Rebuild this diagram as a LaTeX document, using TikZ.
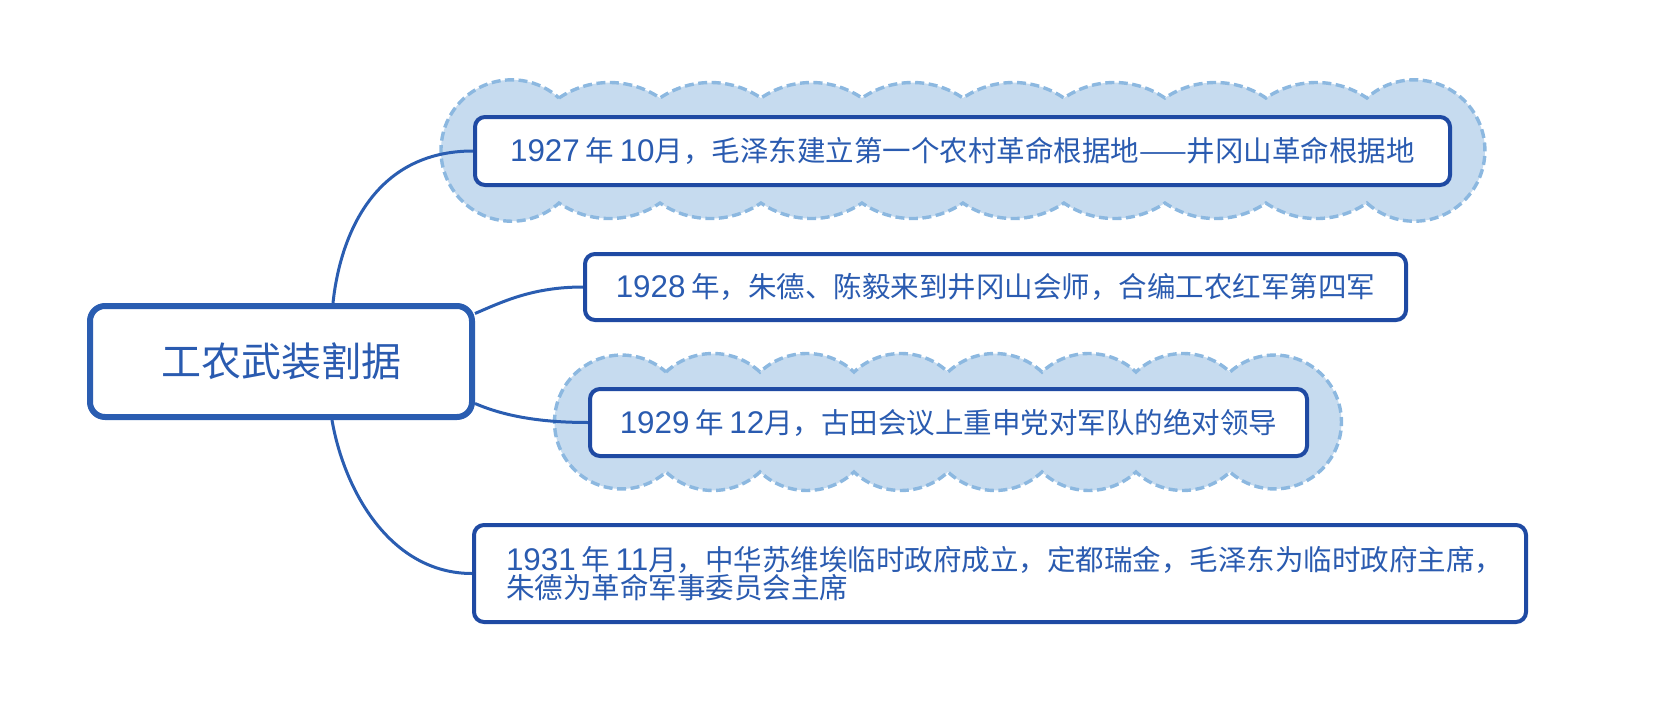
\documentclass[tikz,border=0pt]{standalone}
\usepackage{fontspec}
\setmainfont{Noto Sans CJK SC}
\newfontfamily\latf[Scale=1.1]{Liberation Sans}
\newcommand\digs[1]{{\latf #1}}
\newcommand\gp{\hspace{0.2em}}
\usetikzlibrary{calc}
\definecolor{linec}{HTML}{2A5DB1}
\definecolor{boxc}{HTML}{1F4AA3}
\definecolor{txtc}{HTML}{2A5BB0}
\definecolor{cloudfill}{HTML}{C6DBEF}
\definecolor{cloudline}{HTML}{8CB8E0}
\pgfdeclarelayer{bg}\pgfdeclarelayer{mid}\pgfsetlayers{bg,mid,main}
\begin{document}
\begin{tikzpicture}[x=1pt,y=-1pt,
 topic/.style={draw=boxc, line width=4pt, fill=white, rounded corners=10pt, text=txtc, font=\fontsize{28.5pt}{28.5pt}\selectfont, inner sep=0pt},
 central/.style={draw=linec, line width=6pt, fill=white, rounded corners=15pt, text=txtc, font=\fontsize{40pt}{40pt}\selectfont, inner sep=0pt, minimum width=382pt, minimum height=111pt},
 conn/.style={draw=linec, line width=3pt},
 cloudy/.style={fill=cloudfill, draw=cloudline, line width=3.4pt, dash pattern=on 9pt off 4.5pt}]
\useasboundingbox (0,0) rectangle (1668,712);

% nodes
\node[central] (c) at (281,361.5) {工农武装割据};
\node[topic, minimum width=975pt, minimum height=68pt] (t1) at (962.5,151) {\digs{1927}\gp 年\gp\digs{10}月，毛泽东建立第一个农村革命根据地——井冈山革命根据地};
\node[topic, minimum width=821pt, minimum height=66pt] (t2) at (995.5,287) {\digs{1928}\gp 年，朱德、陈毅来到井冈山会师，合编工农红军第四军};
\node[topic, minimum width=717pt, minimum height=67pt] (t3) at (948.5,422.5) {\digs{1929}\gp 年\gp\digs{12}月，古田会议上重申党对军队的绝对领导};
\node[topic, text width=988pt, align=left, inner xsep=32pt, minimum height=97pt] (t4) at (1000,573.5) {\digs{1931}\gp 年\gp\digs{11}月，中华苏维埃临时政府成立，定都瑞金，毛泽东为临时政府主席，\\朱德为革命军事委员会主席};

% clouds
\begin{pgfonlayer}{bg}
\path[cloudy] (559,98)
  \foreach \i in {1,...,8}{ arc[start angle=235.87, end angle=304.13, radius=90] }
  arc[start angle=227.98, end angle=492.02, radius=70.7]
  \foreach \i in {1,...,8}{ arc[start angle=55.87, end angle=124.13, radius=90] }
  arc[start angle=47.98, end angle=312.02, radius=70.7] -- cycle;
\path[cloudy] (666,372)
  \foreach \i in {1,...,6}{ arc[start angle=227.03, end angle=312.97, radius=68.95] }
  arc[start angle=228.3, end angle=491.7, radius=66.96]
  \foreach \i in {1,...,6}{ arc[start angle=47.03, end angle=132.97, radius=68.95] }
  arc[start angle=48.3, end angle=311.7, radius=66.96] -- cycle;
\end{pgfonlayer}

% connectors
\begin{pgfonlayer}{mid}
\draw[conn] ($(c.north)+(52,0)$) .. controls +(7,-66) and +(-100,0) .. (t1.west);
\draw[conn] ($(c.east)+(0,-48)$) .. controls +(28,-12) and +(-50,0) .. (t2.west);
\draw[conn] ($(c.east)+(0,42)$) .. controls +(28,12) and +(-50,0) .. (t3.west);
\draw[conn] ($(c.south)+(51,0)$) .. controls +(12,70) and +(-82,0) .. (t4.west);
\end{pgfonlayer}
\end{tikzpicture}
\end{document}
